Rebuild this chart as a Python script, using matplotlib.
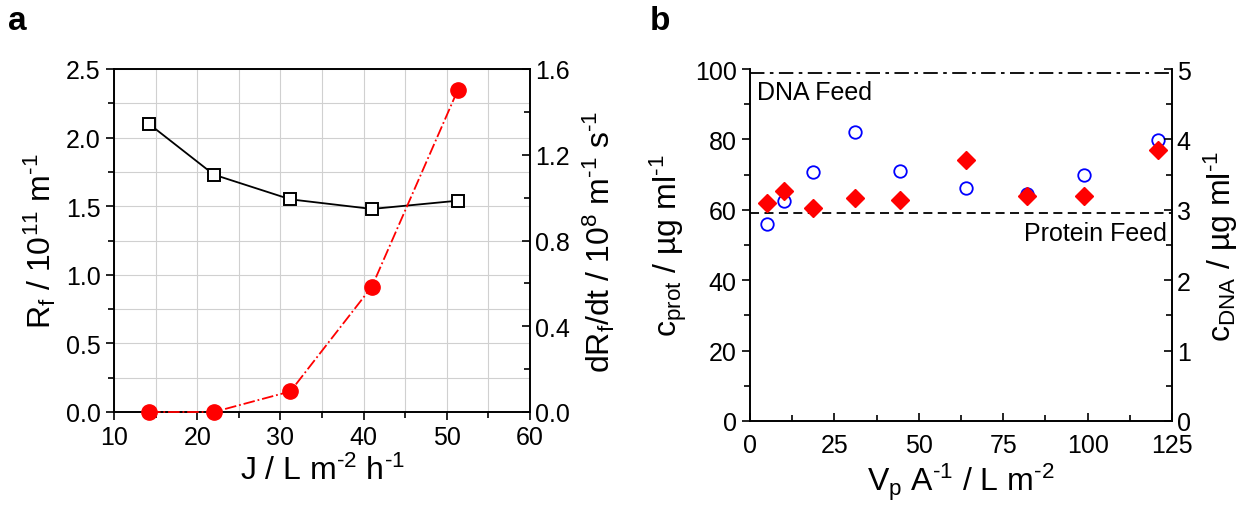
import numpy as np
import matplotlib
matplotlib.use("Agg")
import matplotlib.pyplot as plt
from matplotlib.ticker import MultipleLocator, FormatStrFormatter

plt.rcParams['font.family'] = ['Liberation Sans', 'DejaVu Sans']
plt.rcParams['mathtext.fontset'] = 'custom'
plt.rcParams['mathtext.rm'] = 'Liberation Sans'
plt.rcParams['mathtext.it'] = 'Liberation Sans'
plt.rcParams['mathtext.default'] = 'regular'

# panel a data
J = [14.2, 22.0, 31.2, 41.0, 51.3]
Rf = [2.10, 1.73, 1.55, 1.48, 1.54]
dRfdt = [0.0, 0.0, 0.096, 0.585, 1.50]

# panel b data
Vp = [5, 10, 18.7, 31.2, 44.5, 64, 82, 99, 121]
c_prot = [56.0, 62.5, 70.8, 82.2, 71.0, 66.2, 64.5, 70.0, 79.7]
c_dna = [3.10, 3.265, 3.025, 3.165, 3.135, 3.71, 3.20, 3.19, 3.85]
prot_feed = 59.2
dna_feed = 99.0

TS = 18   # tick labels
LS = 23   # axis labels
H = r'\text{-}'   # hyphen-style minus as in the original

fig = plt.figure(figsize=(12.55, 5.06), dpi=100)

def style(ax):
    ax.tick_params(which='both', labelsize=TS, width=1.2)
    ax.tick_params(which='major', length=6)
    ax.tick_params(which='minor', length=4)
    for s in ax.spines.values():
        s.set_linewidth(1.2)

# ---- panel a
ax1 = fig.add_axes([114/1255, 1-413/506, 416/1255, 343/506])
ax1.plot(J, Rf, '-', color='black', lw=1.3, marker='s', ms=9,
         mfc='white', mec='black', mew=1.4, zorder=3)
ax1.set_xlim(10, 60)
ax1.set_ylim(0, 2.5)
ax1.xaxis.set_major_locator(MultipleLocator(10))
ax1.xaxis.set_minor_locator(MultipleLocator(5))
ax1.yaxis.set_major_locator(MultipleLocator(0.5))
ax1.yaxis.set_minor_locator(MultipleLocator(0.25))
ax1.yaxis.set_major_formatter(FormatStrFormatter('%.1f'))
ax1.grid(True, which='both', color='#d0d0d0', lw=0.8)
ax1.set_axisbelow(True)
style(ax1)
ax1.tick_params(which='both', direction='out')
ax1.set_xlabel('J / L m$^{' + H + '2}$ h$^{' + H + '1}$', fontsize=LS, labelpad=4)
ax1.set_ylabel('R$_{f}$ / 10$^{11}$ m$^{' + H + '1}$', fontsize=LS, labelpad=6)

ax1r = ax1.twinx()
ax1r.plot(J, dRfdt, linestyle='-.', color='red', lw=1.3, marker='o', ms=11,
          mfc='red', mec='red', clip_on=False, zorder=4)
ax1r.set_ylim(0, 1.6)
ax1r.yaxis.set_major_locator(MultipleLocator(0.4))
ax1r.yaxis.set_minor_locator(MultipleLocator(0.2))
ax1r.yaxis.set_major_formatter(FormatStrFormatter('%.1f'))
style(ax1r)
ax1r.tick_params(which='both', direction='in')
ax1r.set_ylabel('dR$_{f}$/dt / 10$^{8}$ m$^{' + H + '1}$ s$^{' + H + '1}$',
                fontsize=LS, labelpad=8)
fig.text(8/1255, 1-22/506, 'a', fontsize=24, fontweight='bold', va='center')

# ---- panel b
ax2 = fig.add_axes([750/1255, 1-422/506, 422/1255, 352/506])
ax2.plot(Vp, c_prot, 'o', ms=9, mfc='none', mec='blue', mew=1.3, zorder=3)
ax2.axhline(prot_feed, color='black', ls=(0, (5, 3)), lw=1.3)
ax2.axhline(dna_feed, color='black', ls=(0, (8, 3, 2, 3)), lw=1.3)
ax2.set_xlim(0, 125)
ax2.set_ylim(0, 100)
ax2.xaxis.set_major_locator(MultipleLocator(25))
ax2.xaxis.set_minor_locator(MultipleLocator(12.5))
ax2.yaxis.set_major_locator(MultipleLocator(20))
ax2.yaxis.set_minor_locator(MultipleLocator(10))
style(ax2)
ax2.tick_params(axis='y', which='both', direction='out')
ax2.tick_params(axis='x', which='both', direction='in', pad=9)
ax2.spines['top'].set_visible(False)
ax2.set_xlabel('V$_{p}$ A$^{' + H + '1}$ / L m$^{' + H + '2}$', fontsize=LS, labelpad=2)
ax2.set_ylabel('c$_{prot}$ / µg ml$^{' + H + '1}$', fontsize=LS, labelpad=4)
ax2.text(2, 93.5, 'DNA Feed', fontsize=18, va='center', ha='left')
ax2.text(123.5, 53.5, 'Protein Feed', fontsize=18, va='center', ha='right')

ax2r = ax2.twinx()
ax2r.plot(Vp, c_dna, 'D', ms=9, mfc='red', mec='red', zorder=4)
ax2r.set_ylim(0, 5)
ax2r.yaxis.set_major_locator(MultipleLocator(1))
ax2r.yaxis.set_minor_locator(MultipleLocator(0.5))
style(ax2r)
ax2r.tick_params(which='both', direction='in')
ax2r.spines['top'].set_visible(False)
ax2r.set_ylabel('c$_{DNA}$ / µg ml$^{' + H + '1}$', fontsize=LS, labelpad=8)
fig.text(650/1255, 1-22/506, 'b', fontsize=24, fontweight='bold', va='center')

fig.savefig('out.png', dpi=100)
